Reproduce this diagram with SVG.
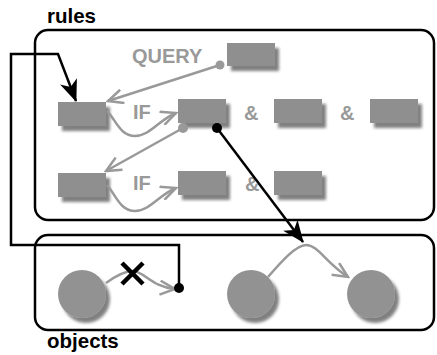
<svg xmlns="http://www.w3.org/2000/svg" width="437" height="355" viewBox="0 0 437 355">
  <style>
    .frame { fill: none; stroke: #000; stroke-width: 2.5; }
    .slot { fill: #8f8f8f; filter: url(#shadow); }
    .obj { fill: #929292; filter: url(#shadow); }
    .glabel { font-family: "Liberation Sans", Arial, sans-serif; font-weight: bold; fill: #999; }
    .blabel { font-family: "Liberation Sans", Arial, sans-serif; font-weight: bold; fill: #000; }
    .gline { fill: none; stroke: #999; stroke-width: 2.5; }
    .bline { fill: none; stroke: #000; stroke-width: 2.5; }
  </style>
  <defs>
    <filter id="shadow" x="-30%" y="-30%" width="170%" height="180%">
      <feGaussianBlur in="SourceAlpha" stdDeviation="1.8"/>
      <feOffset dx="4" dy="5" result="off"/>
      <feComponentTransfer in="off" result="soft">
        <feFuncA type="linear" slope="0.5"/>
      </feComponentTransfer>
      <feMerge>
        <feMergeNode in="soft"/>
        <feMergeNode in="SourceGraphic"/>
      </feMerge>
    </filter>
    <marker id="openGray" viewBox="-16 -8 18 16" refX="0" refY="0" markerWidth="18" markerHeight="16" markerUnits="userSpaceOnUse" orient="auto">
      <path d="M-15,-7 L0,0 L-15,7" fill="none" stroke="#999" stroke-width="2.5"/>
    </marker>
    <marker id="barbBlack" viewBox="-22 -10 24 20" refX="0" refY="0" markerWidth="24" markerHeight="20" markerUnits="userSpaceOnUse" orient="auto">
      <path d="M1,0 L-21,-9 L-15,0 L-21,9 Z" fill="#000"/>
    </marker>
  </defs>

  <!-- section labels -->
  <text class="blabel" x="47" y="23" font-size="20.5">rules</text>
  <text class="blabel" x="47" y="348" font-size="20.5">objects</text>

  <!-- container frames -->
  <g id="rules">
    <rect class="frame" x="35" y="30" width="399" height="190" rx="13"/>
  </g>
  <g id="objects">
    <rect class="frame" x="35" y="235" width="399" height="95" rx="13"/>
  </g>

  <!-- rule slots -->
  <g id="query">
    <text class="glabel" x="132" y="63" font-size="20">QUERY</text>
    <rect class="slot" x="227" y="43" width="48" height="23"/>
  </g>
  <g id="rule1-head"><rect class="slot" x="58" y="102" width="48" height="24"/></g>
  <g id="rule1-cond1"><rect class="slot" x="178" y="99" width="48" height="24"/></g>
  <g id="rule1-cond2"><rect class="slot" x="274" y="99" width="48" height="24"/></g>
  <g id="rule1-cond3"><rect class="slot" x="370" y="99" width="48" height="24"/></g>
  <g id="rule2-head"><rect class="slot" x="58" y="173" width="48" height="24"/></g>
  <g id="rule2-cond1"><rect class="slot" x="178" y="171" width="48" height="24"/></g>
  <g id="rule2-cond2"><rect class="slot" x="274" y="171" width="48" height="24"/></g>

  <g id="rule-text">
    <text class="glabel" x="133" y="119" font-size="20">IF</text>
    <text class="glabel" x="244" y="120" font-size="20">&amp;</text>
    <text class="glabel" x="340" y="120" font-size="20">&amp;</text>
    <text class="glabel" x="133" y="190" font-size="20">IF</text>
    <text class="glabel" x="245" y="191" font-size="20">&amp;</text>
  </g>

  <!-- object nodes -->
  <g id="obj1"><circle class="obj" cx="82" cy="294" r="24"/></g>
  <g id="obj2"><circle class="obj" cx="251" cy="294" r="24"/></g>
  <g id="obj3"><circle class="obj" cx="371" cy="294" r="24"/></g>

  <!-- connectors -->
  <g id="connectors">
    <!-- query to rule 1 head -->
    <path class="gline" d="M220,65 L108,101" marker-end="url(#openGray)"/>
    <circle cx="220" cy="65" r="4.5" fill="#999"/>
    <!-- rule 1 IF -->
    <path class="gline" d="M107,111 C116,120 120,136 135,136 C150,136 160,119 176,113" marker-end="url(#openGray)"/>
    <!-- rule 1 condition to rule 2 head -->
    <path class="gline" d="M183,128 L106,171" marker-end="url(#openGray)"/>
    <circle cx="183" cy="128" r="5" fill="#999"/>
    <!-- rule 2 IF -->
    <path class="gline" d="M107,185 C116,195 120,211 135,211 C150,211 160,194 176,188" marker-end="url(#openGray)"/>
    <!-- object links -->
    <path class="gline" d="M106,283 C117,275 125,271 133,271 C145,272 152,287 175,289" marker-end="url(#openGray)"/>
    <path class="gline" d="M268,277 C281,262 296,245 306,245 C318,245 326,263 348,277" marker-end="url(#openGray)"/>
    <!-- crossed-out link -->
    <path d="M122,263 L143,284 M143,263 L122,284" stroke="#000" stroke-width="4.5" fill="none"/>
    <!-- condition matches object link -->
    <path class="bline" d="M217,128 L303,242" marker-end="url(#barbBlack)"/>
    <circle cx="217" cy="128" r="5" fill="#000"/>
    <!-- broken link feeds back to rule 1 head -->
    <path class="bline" d="M179,288 L179,245 L11,245 L11,54 L58,54 L76,101" marker-end="url(#barbBlack)"/>
    <circle cx="179" cy="288" r="5" fill="#000"/>
  </g>
</svg>
